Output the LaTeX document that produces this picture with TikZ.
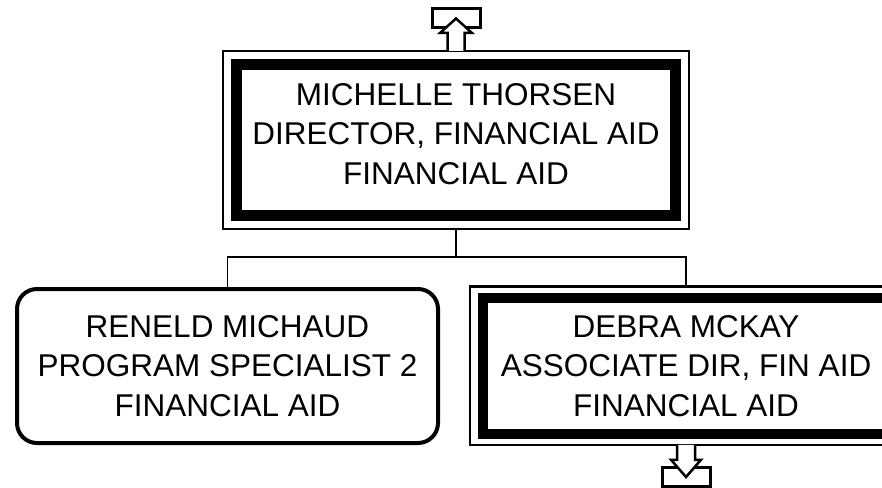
\documentclass[tikz,border=0pt]{standalone}
\usepackage{fontspec}
\setmainfont{Liberation Sans}
\usepackage{tikz}
\usetikzlibrary{calc, positioning}

\begin{document}
\begin{tikzpicture}[x=1pt, y=-1pt,
    every node/.style={outer sep=0pt, inner sep=0pt, align=center,
        font=\fontsize{31.5}{39.5}\selectfont},
    thinframe/.style={draw, line width=2.5pt},
    thickframe/.style={draw, line width=11pt},
    roundbox/.style={draw, line width=4pt, rounded corners=20pt},
    linkbox/.style={draw, line width=3pt, minimum width=48pt, minimum height=19pt},
    hollowarrow/.style={draw, fill=white, line width=2.5pt, line join=miter},
    link/.style={draw, line width=1.5pt}]
    \useasboundingbox (0,0) rectangle (882,487);

    % Vorgesetzte
    \node[thinframe, minimum width=466pt, minimum height=178pt] (michelleframe) at (456,140) {};
    \node[thickframe, minimum width=439pt, minimum height=151.5pt] (michelle) at (456,140) {};
    \node (michelletext) at (456,134)
        {MICHELLE THORSEN\\DIRECTOR, FINANCIAL AID\\FINANCIAL AID};

    % Mitarbeiter
    \node[roundbox, minimum width=421pt, minimum height=154pt] (reneld) at (227.5,366)
        {RENELD MICHAUD\\PROGRAM SPECIALIST 2\\FINANCIAL AID};
    \node[thinframe, minimum width=432pt, minimum height=158.5pt] (debraframe) at (686,365.5) {};
    \node[thickframe, line width=10pt, minimum width=407pt, minimum height=136pt] (debra) at (686,366)
        {DEBRA MCKAY\\ASSOCIATE DIR, FIN AID\\FINANCIAL AID};

    % Verbindungen
    \draw[link] (michelleframe.south) -- ++(0,28) coordinate (split) -| (reneld.north);
    \draw[link] (split) -| (debraframe.north);

    % Pfeile nach oben und unten
    \node[linkbox] (upbox) at (456,18.5) {};
    \draw[hollowarrow] (michelleframe.north) ++(-8.5,0) -- ++(0,-18) -- ++(-7.5,0)
        -- (upbox.center) -- ($(michelleframe.north)+(16,-18)$) -- ++(-7.5,0) -- ++(0,18);
    \node[linkbox] (downbox) at (686,477) {};
    \draw[hollowarrow] (debraframe.south) ++(-9,0) -- ++(0,15) -- ++(-6,0)
        -- (downbox.center) -- ($(debraframe.south)+(15,15)$) -- ++(-6,0) -- ++(0,-15);
\end{tikzpicture}
\end{document}
